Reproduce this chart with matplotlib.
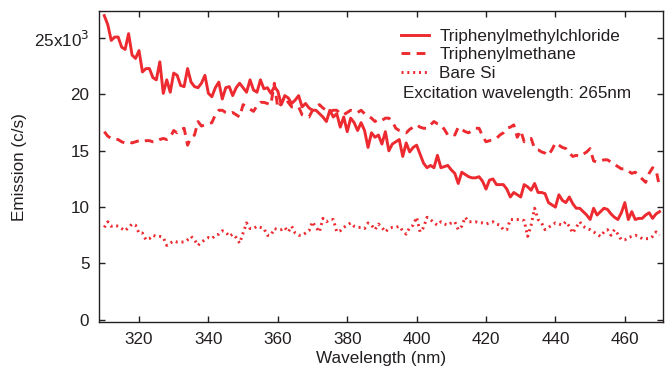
import numpy as np
import matplotlib
matplotlib.use("Agg")
import matplotlib.pyplot as plt
from matplotlib.ticker import FuncFormatter

plt.rcParams['font.family'] = ['Liberation Sans', 'DejaVu Sans']

# wavelength (nm), 1 nm steps
wavelength = np.arange(310, 471)

# emission, in units of 10^3 c/s
trityl_chloride = [
    27.0, 26.2, 24.8, 25.1, 25.1, 24.2, 24.0, 25.4, 23.5, 23.2,
    23.9, 22.0, 22.3, 22.3, 21.5, 21.3, 22.9, 20.1, 21.3, 20.2,
    21.9, 21.7, 20.8, 20.7, 22.3, 21.1, 20.7, 20.6, 21.0, 21.7,
    20.1, 19.8, 20.6, 21.1, 19.6, 20.6, 20.7, 19.9, 20.6, 21.0,
    20.6, 20.2, 21.3, 20.4, 20.2, 21.3, 20.5, 20.6, 20.1, 20.7,
    20.3, 19.1, 19.9, 19.7, 19.2, 19.5, 19.9, 18.9, 19.2, 18.8,
    18.6, 18.6, 18.3, 18.0, 17.6, 18.6, 18.0, 18.3, 17.1, 18.0,
    16.7, 17.9, 17.5, 16.8, 17.5, 16.8, 15.3, 16.6, 16.2, 16.4,
    15.6, 16.7, 15.0, 15.6, 15.8, 16.0, 14.5, 15.7, 14.9, 15.3,
    15.5, 14.7, 13.9, 13.5, 13.7, 13.5, 14.6, 13.5, 13.6, 13.7,
    13.3, 13.0, 12.1, 13.1, 12.9, 12.7, 12.6, 12.6, 12.7, 12.3,
    11.6, 12.4, 12.5, 12.0, 12.0, 12.0, 11.6, 10.9, 11.3, 11.1,
    10.9, 12.0, 11.8, 11.5, 12.1, 11.3, 11.3, 11.2, 10.4, 10.2,
    10.0, 11.1, 10.6, 10.4, 10.9, 10.3, 9.9, 9.9, 9.6, 9.3,
    8.9, 9.9, 9.3, 9.6, 9.9, 9.8, 9.4, 9.1, 8.9, 9.5,
    10.4, 8.9, 9.6, 8.9, 9.0, 9.0, 9.3, 9.5, 9.0, 9.4,
    9.6,
]

trityl_methane = [
    16.7, 16.3, 16.1, 16.0, 16.0, 15.8, 15.7, 15.8, 15.7, 15.8,
    15.9, 15.8, 15.9, 15.9, 15.8, 15.8, 16.0, 16.1, 16.0, 16.2,
    16.8, 16.6, 16.9, 17.0, 15.5, 16.2, 16.4, 17.6, 17.2, 17.3,
    17.4, 17.5, 18.2, 18.6, 18.6, 18.4, 18.3, 18.4, 18.2, 18.0,
    19.1, 18.9, 18.7, 18.5, 19.0, 19.3, 19.3, 19.2, 19.1, 21.0,
    18.8, 19.2, 19.8, 19.3, 18.9, 18.9, 18.9, 18.2, 18.1, 18.0,
    18.6, 18.9, 19.1, 18.8, 18.6, 18.5, 18.6, 18.6, 18.3, 18.2,
    18.4, 18.6, 18.5, 18.4, 18.6, 18.3, 18.1, 17.9, 17.6, 17.8,
    17.7, 17.9, 17.9, 17.6, 17.0, 16.8, 16.7, 16.6, 16.9, 17.1,
    17.3, 17.1, 17.0, 17.0, 17.3, 17.6, 17.4, 17.3, 16.9, 16.4,
    16.5, 16.4, 17.1, 16.9, 16.7, 16.6, 16.8, 17.0, 17.0, 16.3,
    15.8, 15.9, 16.0, 16.1, 16.4, 16.6, 17.0, 17.1, 17.3, 16.2,
    16.8, 15.8, 16.0, 16.1, 15.2, 15.1, 14.9, 14.8, 14.6, 15.1,
    15.7, 15.5, 15.3, 15.2, 14.8, 14.5, 14.6, 14.5, 14.7, 14.9,
    15.2, 14.1, 14.0, 14.1, 14.2, 14.2, 14.0, 13.8, 13.6, 13.4,
    13.4, 13.2, 13.0, 13.1, 12.8, 12.5, 12.2, 13.0, 13.5, 13.3,
    11.8,
]

bare_si = [
    8.2, 8.7, 8.3, 8.4, 8.3, 8.1, 7.9, 8.2, 8.5, 8.4,
    7.7, 7.7, 7.1, 7.2, 7.5, 7.4, 7.4, 7.3, 6.6, 6.8,
    7.0, 6.9, 6.9, 6.9, 7.1, 7.4, 7.1, 6.6, 6.9, 7.1,
    7.3, 7.2, 7.5, 7.6, 7.9, 7.8, 7.4, 7.6, 7.3, 6.8,
    7.7, 8.6, 8.1, 8.1, 8.3, 8.2, 8.1, 7.5, 7.5, 8.1,
    8.0, 8.0, 8.2, 7.8, 8.3, 7.7, 7.5, 7.5, 7.7, 7.9,
    8.7, 8.2, 7.8, 9.0, 8.7, 8.9, 8.9, 7.8, 7.9, 8.2,
    8.4, 8.6, 8.3, 8.2, 8.2, 8.1, 8.6, 8.4, 8.0, 8.5,
    8.2, 7.8, 8.1, 8.2, 8.2, 8.3, 7.9, 7.6, 8.2, 8.4,
    9.1, 7.8, 8.2, 9.1, 8.9, 8.6, 8.4, 8.7, 8.5, 8.4,
    8.6, 8.7, 8.0, 8.3, 9.1, 8.7, 8.7, 8.7, 8.6, 8.6,
    8.5, 8.6, 8.7, 8.5, 8.4, 8.0, 8.0, 8.9, 8.9, 8.9,
    8.9, 8.8, 7.4, 8.4, 9.9, 8.9, 8.6, 8.0, 8.2, 8.4,
    8.6, 8.5, 8.4, 8.7, 8.3, 7.7, 8.2, 8.7, 8.3, 8.1,
    8.0, 7.8, 7.6, 7.4, 7.8, 8.0, 7.5, 8.0, 7.6, 7.1,
    7.1, 7.3, 7.4, 7.5, 7.4, 7.2, 7.2, 7.2, 7.4, 7.8,
    7.5,
]

labels = ["Triphenylmethylchloride", "Triphenylmethane", "Bare Si"]
red = '#EC2A30'
dark = '#231F20'
fs = 12.3

fig = plt.figure(figsize=(6.65, 3.71), dpi=100)
ax = fig.add_axes([0.149, 0.132, 0.848, 0.838])

ax.plot(wavelength, trityl_chloride, color=red, lw=2.1, label=labels[0])
ax.plot(wavelength, trityl_methane, color=red, lw=2.1, linestyle=(0, (3, 2.2)), label=labels[1])
ax.plot(wavelength, bare_si, color=red, lw=2.1, linestyle=(0, (0.7, 1.3)), label=labels[2])

ax.set_xlim(308.5, 471)
ax.set_ylim(-0.2, 27.4)
ax.set_xticks(np.arange(320, 461, 20))
ax.set_yticks(np.arange(0, 26, 5))

def ylab(v, pos):
    if v == 25:
        return r"25x10$^3$"
    return "%d" % v

ax.yaxis.set_major_formatter(FuncFormatter(ylab))
ax.tick_params(direction='in', top=True, right=True, length=4, width=1,
               colors=dark, labelsize=fs, labelcolor=dark)
ax.tick_params(axis='x', pad=7)
ax.tick_params(axis='y', pad=7)
for s in ax.spines.values():
    s.set_color(dark)
    s.set_linewidth(1)

ax.set_xlabel("Wavelength (nm)", fontsize=fs, color=dark, labelpad=3)
ax.set_ylabel("Emission (c/s)", fontsize=fs, color=dark, labelpad=5)

leg = ax.legend(loc='upper left', bbox_to_anchor=(0.535, 0.943), frameon=False,
                fontsize=fs, handlelength=1.65, handletextpad=0.6,
                labelspacing=0.2, borderpad=0, borderaxespad=0)
for t in leg.get_texts():
    t.set_color(dark)
ax.text(0.539, 0.735, "Excitation wavelength: 265nm", transform=ax.transAxes,
        fontsize=fs, color=dark, va='center', ha='left')

fig.savefig("out.png", dpi=100)
